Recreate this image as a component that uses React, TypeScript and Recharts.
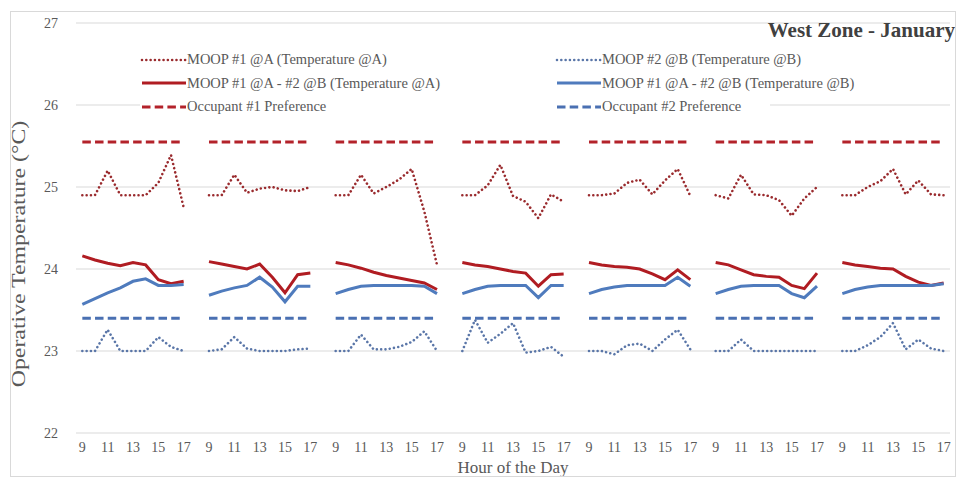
import React from 'react';
import { LineChart, Line, XAxis, YAxis, CartesianGrid, Legend, Label } from 'recharts';

const FONT = "'Liberation Serif', 'Times New Roman', serif";

// hours shown for each of the 7 days
const hours = [9, 10, 11, 12, 13, 14, 15, 16, 17];

// MOOP #1 @A (Temperature @A), one row per day
const moop1A = [
  [24.9, 24.9, 25.2, 24.9, 24.9, 24.9, 25.05, 25.39, 24.75],
  [24.9, 24.9, 25.15, 24.93, 24.98, 25.0, 24.96, 24.95, 25.0],
  [24.9, 24.9, 25.15, 24.92, 25.0, 25.09, 25.22, 24.7, 24.05],
  [24.9, 24.9, 25.02, 25.27, 24.89, 24.82, 24.62, 24.91, 24.82],
  [24.9, 24.9, 24.92, 25.05, 25.09, 24.91, 25.08, 25.22, 24.89],
  [24.9, 24.86, 25.15, 24.91, 24.9, 24.84, 24.65, 24.86, 25.0],
  [24.9, 24.9, 25.0, 25.07, 25.22, 24.91, 25.08, 24.91, 24.9],
];

// MOOP #2 @B (Temperature @B)
const moop2B = [
  [23.0, 23.0, 23.26, 23.0, 23.0, 23.0, 23.17, 23.05, 23.0],
  [23.0, 23.02, 23.17, 23.03, 23.0, 23.0, 23.0, 23.02, 23.03],
  [23.0, 23.0, 23.2, 23.02, 23.02, 23.05, 23.11, 23.24, 23.0],
  [23.0, 23.38, 23.1, 23.21, 23.34, 22.98, 23.0, 23.05, 22.93],
  [23.0, 23.0, 22.96, 23.07, 23.09, 23.0, 23.14, 23.26, 23.02],
  [23.0, 23.0, 23.14, 23.0, 23.0, 23.0, 23.0, 23.0, 23.0],
  [23.0, 23.0, 23.07, 23.17, 23.34, 23.02, 23.14, 23.03, 23.0],
];

// MOOP #1 @A - #2 @B (Temperature @A)
const bothA = [
  [24.16, 24.11, 24.07, 24.04, 24.08, 24.05, 23.87, 23.82, 23.85],
  [24.09, 24.06, 24.03, 24.0, 24.06, 23.9, 23.71, 23.93, 23.95],
  [24.08, 24.05, 24.01, 23.96, 23.92, 23.89, 23.86, 23.83, 23.75],
  [24.08, 24.05, 24.03, 24.0, 23.97, 23.95, 23.79, 23.93, 23.94],
  [24.08, 24.05, 24.03, 24.02, 24.0, 23.94, 23.87, 23.99, 23.87],
  [24.08, 24.05, 23.99, 23.93, 23.91, 23.9, 23.8, 23.76, 23.95],
  [24.08, 24.05, 24.03, 24.01, 24.0, 23.91, 23.84, 23.8, 23.83],
];

// MOOP #1 @A - #2 @B (Temperature @B)
const bothB = [
  [23.57, 23.64, 23.71, 23.77, 23.85, 23.88, 23.8, 23.8, 23.81],
  [23.68, 23.73, 23.77, 23.8, 23.9, 23.78, 23.6, 23.79, 23.79],
  [23.7, 23.75, 23.79, 23.8, 23.8, 23.8, 23.8, 23.79, 23.7],
  [23.7, 23.75, 23.79, 23.8, 23.8, 23.8, 23.65, 23.8, 23.8],
  [23.7, 23.75, 23.78, 23.8, 23.8, 23.8, 23.8, 23.9, 23.79],
  [23.7, 23.75, 23.79, 23.8, 23.8, 23.8, 23.7, 23.65, 23.79],
  [23.7, 23.75, 23.78, 23.8, 23.8, 23.8, 23.8, 23.8, 23.82],
];

const occupant1Pref = 25.55;
const occupant2Pref = 23.4;

const yTicks = [22, 23, 24, 25, 26, 27];

const series = [
  { key: 'moop1A', name: 'MOOP #1 @A (Temperature @A)', color: '#9a2b2e', width: 2.6, dash: '0.01 4.3', cap: 'round' },
  { key: 'moop2B', name: 'MOOP #2 @B (Temperature @B)', color: '#5a76a8', width: 2.6, dash: '0.01 4.3', cap: 'round' },
  { key: 'bothA', name: 'MOOP #1 @A - #2 @B (Temperature @A)', color: '#b01c22', width: 3, dash: undefined, cap: 'butt' },
  { key: 'bothB', name: 'MOOP #1 @A - #2 @B (Temperature @B)', color: '#4f7bbd', width: 3, dash: undefined, cap: 'butt' },
  { key: 'occ1', name: 'Occupant #1 Preference', color: '#b3222a', width: 3, dash: '8.5 4.2', cap: 'butt' },
  { key: 'occ2', name: 'Occupant #2 Preference', color: '#4a70b2', width: 3, dash: '8.5 4.2', cap: 'butt' },
];

// one row per hour, with an empty row between days so the lines break
const data: any[] = [];
moop1A.forEach((_, d) => {
  hours.forEach((h, i) => {
    data.push({
      key: `${d}-${h}`,
      moop1A: moop1A[d][i],
      moop2B: moop2B[d][i],
      bothA: bothA[d][i],
      bothB: bothB[d][i],
      occ1: occupant1Pref,
      occ2: occupant2Pref,
    });
  });
  if (d < moop1A.length - 1) data.push({ key: `${d}-gap` });
});

const renderLegend = () => (
  <div
    style={{
      display: 'grid',
      gridTemplateColumns: '415px 400px',
      width: 630,
      background: '#fff',
      fontFamily: FONT,
      fontSize: 14.5,
      color: '#595959',
    }}
  >
    {series.map((s) => (
      <div key={s.key} style={{ display: 'flex', alignItems: 'center', height: 23.5, whiteSpace: 'nowrap' }}>
        <svg width={47} height={8} style={{ flex: 'none' }}>
          <line x1={2} y1={4} x2={46} y2={4} stroke={s.color} strokeWidth={s.width} strokeDasharray={s.dash} strokeLinecap={s.cap as any} />
        </svg>
        <span>{s.name}</span>
      </div>
    ))}
  </div>
);

export default function App() {
  return (
    <div style={{ position: 'absolute', left: 0, top: 0, width: 961, height: 479, background: '#fff' }}>
      <LineChart width={961} height={479} data={data} margin={{ top: 23, right: 11, left: 36, bottom: 0 }}>
        <CartesianGrid vertical={false} stroke="#d9d9d9" />
        <XAxis
          dataKey="key"
          interval={1}
          tickFormatter={(v) => String(v).split('-')[1]}
          axisLine={false}
          tickLine={false}
          padding={{ left: 6.33, right: 6.33 }}
          height={46}
          tickMargin={3}
          tick={{ fill: '#595959', fontSize: 14, fontFamily: FONT }}
        >
          <Label value="Hour of the Day" position="insideBottom" offset={6} fill="#595959" fontSize={17} fontFamily={FONT} />
        </XAxis>
        <YAxis
          domain={[22, 27]}
          ticks={yTicks}
          axisLine={false}
          tickLine={false}
          width={40}
          tickMargin={12}
          tick={{ fill: '#595959', fontSize: 14, fontFamily: FONT }}
        />
        <Legend
          layout="vertical"
          align="center"
          verticalAlign="middle"
          content={renderLegend}
          wrapperStyle={{ top: 48, left: 140, width: 630 }}
        />
        {series.map((s) => (
          <Line
            key={s.key}
            type="linear"
            dataKey={s.key}
            name={s.name}
            stroke={s.color}
            strokeWidth={s.width}
            strokeDasharray={s.dash}
            strokeLinecap={s.cap as any}
            dot={false}
            activeDot={false}
            isAnimationActive={false}
          />
        ))}
      </LineChart>
      <div
        style={{
          position: 'absolute',
          right: 6,
          top: 18,
          fontFamily: FONT,
          fontWeight: 'bold',
          fontSize: 21,
          color: '#404040',
          whiteSpace: 'nowrap',
        }}
      >
        West Zone - January
      </div>
      <div
        style={{
          position: 'absolute',
          left: 20,
          top: 254,
          transform: 'translate(-50%, -50%) rotate(-90deg) scale(1.4, 1.05)',
          fontFamily: FONT,
          fontSize: 17,
          color: '#595959',
          whiteSpace: 'nowrap',
        }}
      >
        Operative Temperature (°C)
      </div>
      <div
        style={{
          position: 'absolute',
          left: 10,
          top: 11,
          width: 946,
          height: 466,
          border: '1px solid #d9d9d9',
          boxSizing: 'border-box',
          pointerEvents: 'none',
        }}
      />
    </div>
  );
}
